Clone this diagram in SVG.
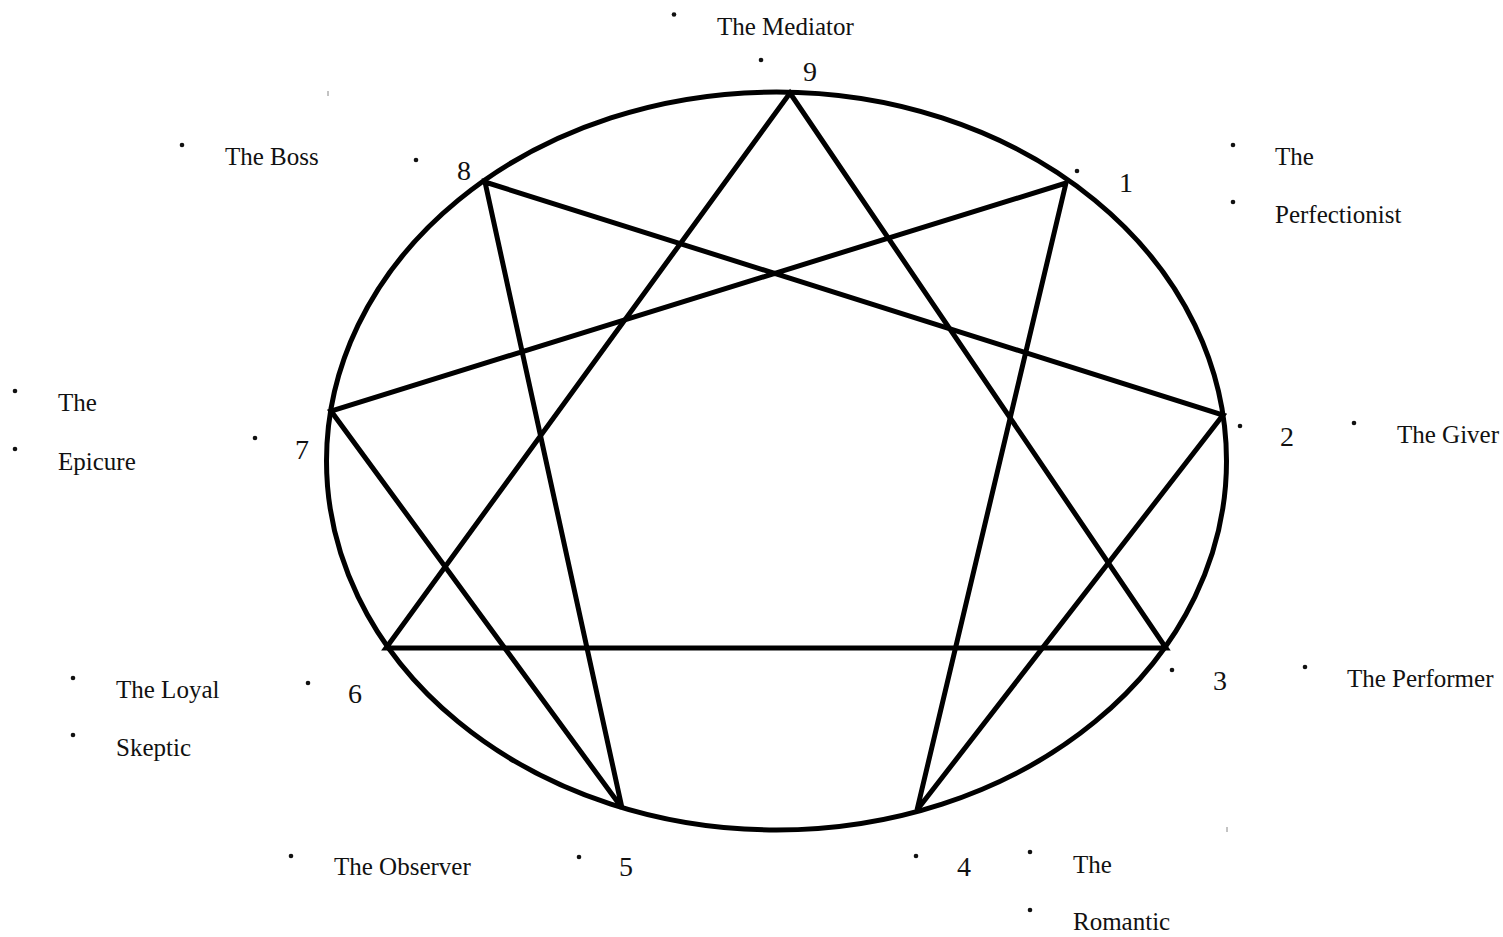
<svg xmlns="http://www.w3.org/2000/svg" width="1503" height="937" viewBox="0 0 1503 937">
<style>
text{font-family:"Liberation Serif","Times New Roman",serif;font-size:25px;fill:#111}
text.d{font-size:28px}
.b{fill:#111}
.ln{stroke:#000;stroke-width:5;fill:none;stroke-linejoin:miter}
.tick{stroke:#888;stroke-width:1}
</style>
<rect width="1503" height="937" fill="#fff"/>
<g id="connectors">
<ellipse class="ln" cx="776.5" cy="461" rx="450" ry="369"/>
<polygon class="ln" points="790,93 1166,648 386,648"/>
<polygon class="ln" points="1066,183 917,810 1223,415 485,182 622,808 331,411"/>
<line class="tick" x1="328" y1="91" x2="328" y2="96"/>
<line class="tick" x1="1227" y1="827" x2="1227" y2="832"/>
</g>
<g id="n9"><circle class="b" cx="674" cy="14.5" r="2.3"/><text x="717" y="35">The Mediator</text><circle class="b" cx="761" cy="60" r="2.3"/><text class="d" x="803" y="81">9</text></g>
<g id="n8"><circle class="b" cx="182" cy="145" r="2.3"/><text x="225" y="165">The Boss</text><circle class="b" cx="416" cy="160" r="2.3"/><text class="d" x="457" y="180">8</text></g>
<g id="n1"><circle class="b" cx="1077" cy="171" r="2.3"/><text class="d" x="1119" y="192">1</text><circle class="b" cx="1233" cy="145" r="2.3"/><text x="1275" y="165">The</text><circle class="b" cx="1233" cy="202" r="2.3"/><text x="1275" y="223">Perfectionist</text></g>
<g id="n7"><circle class="b" cx="15" cy="391" r="2.3"/><text x="58" y="411">The</text><circle class="b" cx="15" cy="449" r="2.3"/><text x="58" y="470">Epicure</text><circle class="b" cx="255" cy="438" r="2.3"/><text class="d" x="295" y="459">7</text></g>
<g id="n2"><circle class="b" cx="1240" cy="426" r="2.3"/><text class="d" x="1280" y="446">2</text><circle class="b" cx="1354" cy="423" r="2.3"/><text x="1397" y="443">The Giver</text></g>
<g id="n6"><circle class="b" cx="73" cy="678" r="2.3"/><text x="116" y="698">The Loyal</text><circle class="b" cx="73" cy="735" r="2.3"/><text x="116" y="756">Skeptic</text><circle class="b" cx="308" cy="683" r="2.3"/><text class="d" x="348" y="703">6</text></g>
<g id="n3"><circle class="b" cx="1172" cy="670" r="2.3"/><text class="d" x="1213" y="690">3</text><circle class="b" cx="1305" cy="667" r="2.3"/><text x="1347" y="687">The Performer</text></g>
<g id="n5"><circle class="b" cx="291" cy="856" r="2.3"/><text x="334" y="875">The Observer</text><circle class="b" cx="579" cy="857" r="2.3"/><text class="d" x="619" y="876">5</text></g>
<g id="n4"><circle class="b" cx="916" cy="856" r="2.3"/><text class="d" x="957" y="876">4</text><circle class="b" cx="1030" cy="852" r="2.3"/><text x="1073" y="873">The</text><circle class="b" cx="1030" cy="910" r="2.3"/><text x="1073" y="930">Romantic</text></g>
</svg>
